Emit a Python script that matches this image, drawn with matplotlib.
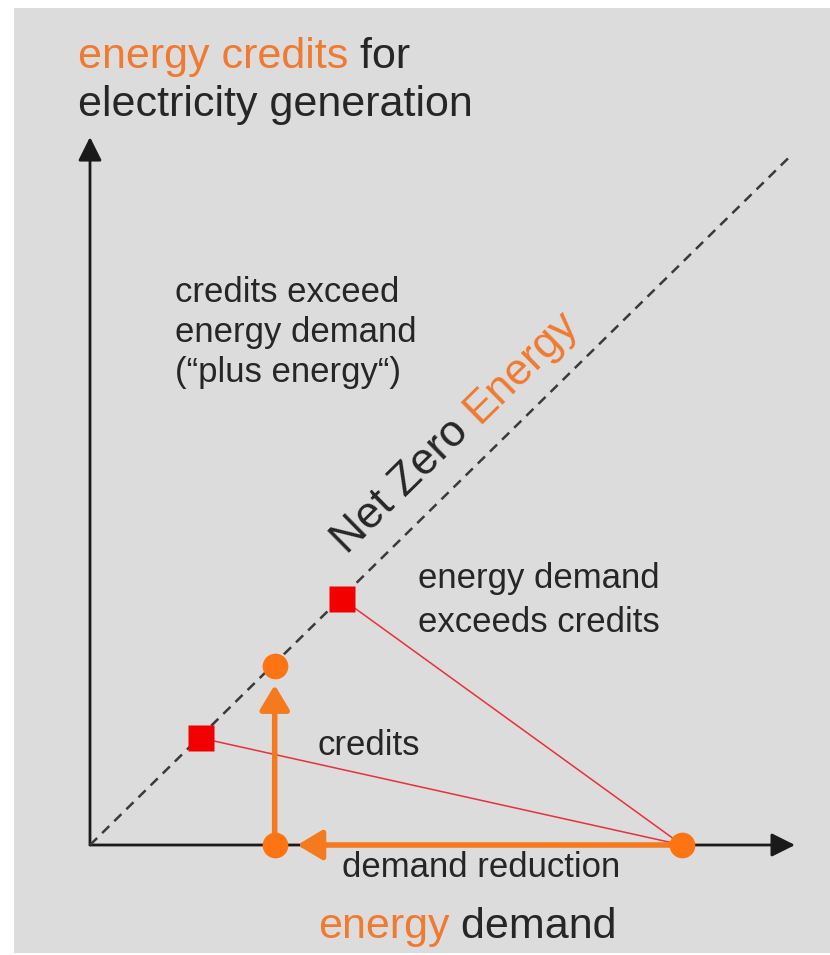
import numpy as np
import matplotlib
matplotlib.use('Agg')
import matplotlib.pyplot as plt
import matplotlib.transforms as mtransforms
from matplotlib.patches import Rectangle
from matplotlib.font_manager import FontProperties

# diagram values (demand on x, credits on y)
net_zero_x = [0, 9.95]
net_zero_y = [0, 10.0]
squares_x = [1.57, 3.57]
squares_y = [1.55, 3.57]
start_x, start_y = 8.40, 0.0          # building before measures
reduced_x, reduced_y = 2.62, 0.0      # after demand reduction
credited_x, credited_y = 2.62, 2.60   # after credits
x_axis_end = 10.0
y_axis_end = 10.26

orange = '#f57a1e'
orange_txt = '#f07a30'
dark = '#262626'
red = '#f20000'
red_line = '#e8303c'
font = 'Liberation Sans'

fig = plt.figure(figsize=(8.3, 9.55), dpi=100)
fig.patches.append(Rectangle((14 / 830, 2 / 955), 1, 945 / 955, transform=fig.transFigure,
                             facecolor='#dcdcdc', edgecolor='none', zorder=-10))
ax = fig.add_axes([0, 0, 1, 1])
ax.set_xlim(-90 / 70.5, 740 / 70.5)
ax.set_ylim(-110 / 69, 845 / 69)
ax.axis('off')
ax.patch.set_alpha(0)

# axes with arrow heads
axis_arrow = dict(arrowstyle='-|>,head_length=0.72,head_width=0.36', mutation_scale=20,
                  color='#1a1a1a', lw=2.0, shrinkA=0, shrinkB=0)
ax.annotate('', xy=(x_axis_end, 0), xytext=(0, 0), arrowprops=axis_arrow, zorder=2)
ax.annotate('', xy=(0, y_axis_end), xytext=(0, 0), arrowprops=axis_arrow, zorder=2)

# net zero diagonal
ax.plot(net_zero_x, net_zero_y, color='#3a3a3a', lw=1.8, dashes=(4, 2.8), zorder=2)

# red lines from start point to the squares
for sx, sy in zip(squares_x, squares_y):
    ax.plot([start_x, sx], [start_y, sy], color=red_line, lw=1.1, zorder=3)
ax.plot(squares_x, squares_y, 's', color=red, ms=19, mec='none', zorder=5)

# orange arrows
orange_arrow = dict(arrowstyle='-|>,head_length=0.75,head_width=0.45', mutation_scale=20,
                    color=orange, lw=4, shrinkA=0, shrinkB=0)
ax.annotate('', xy=(2.94, 0), xytext=(start_x, start_y), arrowprops=orange_arrow, zorder=4)
ax.annotate('', xy=(reduced_x, 2.32), xytext=(reduced_x, reduced_y), arrowprops=orange_arrow, zorder=4)
ax.plot([start_x, reduced_x, credited_x], [start_y, reduced_y, credited_y], 'o',
        color='#ff7412', ms=18.5, mec='none', zorder=6)

# texts
fig.canvas.draw()
renderer = fig.canvas.get_renderer()


def text_width(s, size):
    fp = FontProperties(family=font, size=size)
    wx = renderer.get_text_width_height_descent('x', fp, ismath=False)[0]
    return renderer.get_text_width_height_descent(s + 'x', fp, ismath=False)[0] - wx


def two_tone(x, y, parts, size, angle=0.0, ha='left'):
    u = np.array([np.cos(np.radians(angle)), np.sin(np.radians(angle))])
    total = text_width(''.join(p for p, c in parts), size)
    off = -total / 2 if ha == 'center' else 0.0
    for s, c in parts:
        dx, dy = off * u
        tr = mtransforms.offset_copy(ax.transData, fig=fig, x=dx, y=dy, units='dots')
        ax.text(x, y, s, transform=tr, color=c, fontsize=size, family=font,
                rotation=angle, rotation_mode='anchor', ha='left', va='baseline', zorder=7)
        off += text_width(s, size)


two_tone(-0.17, 11.26, [('energy credits', orange_txt), (' for', dark)], 31)
ax.text(-0.17, 10.57, 'electricity generation', color=dark, fontsize=31, family=font, va='baseline')

for line, yy in zip(['credits exceed', 'energy demand', '(\u201cplus energy\u201c)'], [7.87, 7.29, 6.71]):
    ax.text(1.21, yy, line, color=dark, fontsize=25, family=font, va='baseline')
for line, yy in zip(['energy demand', 'exceeds credits'], [3.72, 3.09]):
    ax.text(4.65, yy, line, color=dark, fontsize=25, family=font, va='baseline')
ax.text(3.23, 1.30, 'credits', color=dark, fontsize=25, family=font, va='baseline')
ax.text(3.57, -0.46, 'demand reduction', color=dark, fontsize=25, family=font, va='baseline')
two_tone(3.23, -1.35, [('energy', orange_txt), (' demand', dark)], 31)

p0 = ax.transData.transform((net_zero_x[0], net_zero_y[0]))
p1 = ax.transData.transform((net_zero_x[1], net_zero_y[1]))
ang = np.degrees(np.arctan2(p1[1] - p0[1], p1[0] - p0[0]))
two_tone(5.30, 5.86, [('Net Zero ', dark), ('Energy', orange_txt)], 32, angle=ang, ha='center')

fig.savefig('out.png', dpi=100)
